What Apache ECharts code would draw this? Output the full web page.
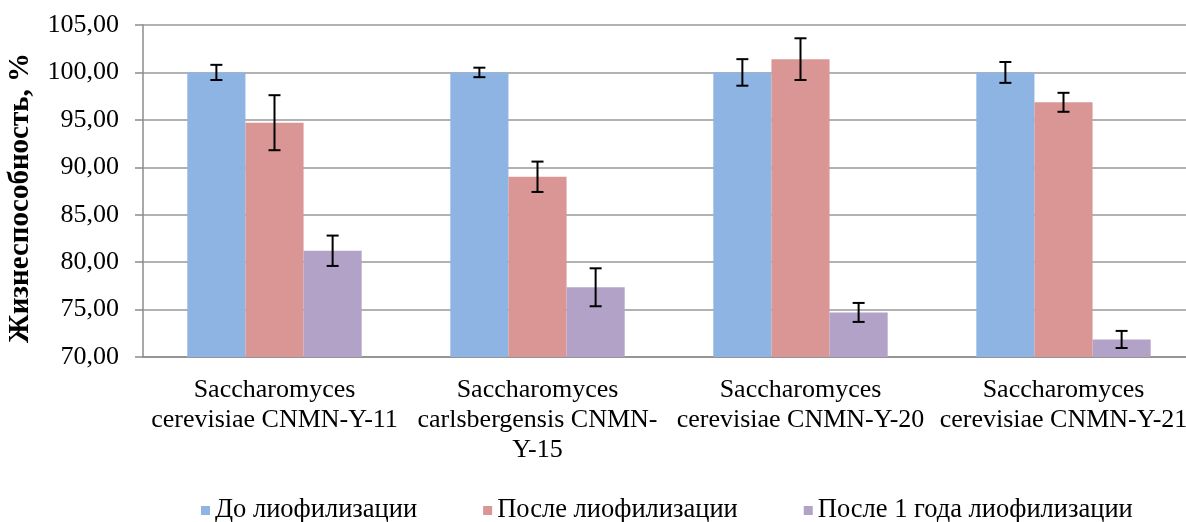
<!DOCTYPE html>
<html>
<head>
<meta charset="utf-8">
<script src="https://cdn.jsdelivr.net/npm/echarts@6/dist/echarts.min.js"></script>
<style>
  html, body { margin: 0; padding: 0; background: #fff; }
  #chart { width: 1186px; height: 522px; }
</style>
</head>
<body>
<div id="chart"></div>
<script>
// данные графика
const categories = [
  'Saccharomyces\ncerevisiae CNMN-Y-11',
  'Saccharomyces\ncarlsbergensis CNMN-\nY-15',
  'Saccharomyces\ncerevisiae CNMN-Y-20',
  'Saccharomyces\ncerevisiae CNMN-Y-21'
]
const seriesNames = ['До лиофилизации', 'После лиофилизации', 'После 1 года лиофилизации']
const beforeValues = [100.0, 100.0, 100.0, 100.0]
const afterValues = [94.7, 89.0, 101.4, 96.85]
const yearValues = [81.2, 77.35, 74.7, 71.85]
// погрешности (±)
const beforeErr = [0.8, 0.5, 1.4, 1.1]
const afterErr = [2.9, 1.6, 2.2, 1.0]
const yearErr = [1.6, 2.0, 1.0, 0.9]

const colors = ['#8eb4e3', '#d99694', '#b3a2c7']
const font = '"Liberation Serif", "Times New Roman", serif'
const catGap = 0.337 // доля пустого места в категории

const chart = echarts.init(document.getElementById('chart'))

// планки погрешностей через custom series
const errorSeries = (values, errs, idx) => ({
  type: 'custom',
  silent: true,
  z: 10,
  data: values.map((v, i) => [i, v - errs[i], v + errs[i]]),
  renderItem: (params, api) => {
    const catW = api.size([1, 0])[0]
    const barW = catW * (1 - catGap) / 3
    const lo = api.coord([api.value(0), api.value(1)])
    const hi = api.coord([api.value(0), api.value(2)])
    const x = lo[0] + (idx - 1) * barW
    const cap = 6
    const style = { stroke: '#000', lineWidth: 2 }
    return {
      type: 'group',
      children: [
        { type: 'line', shape: { x1: x, y1: lo[1], x2: x, y2: hi[1] }, style },
        { type: 'line', shape: { x1: x - cap, y1: lo[1], x2: x + cap, y2: lo[1] }, style },
        { type: 'line', shape: { x1: x - cap, y1: hi[1], x2: x + cap, y2: hi[1] }, style }
      ]
    }
  }
})

const option = {
  animation: false,
  color: colors,
  textStyle: { fontFamily: font, color: '#000' },
  // правый край области построения выходит за холст, как в оригинале
  grid: { left: 143, top: 25, bottom: 165, width: 1052, outerBoundsMode: 'none' },
  legend: {
    bottom: -7,
    left: 196,
    icon: 'rect',
    itemWidth: 9,
    itemHeight: 9,
    itemGap: 66,
    data: seriesNames,
    textStyle: { fontFamily: font, fontSize: 26.5, color: '#000' }
  },
  xAxis: {
    type: 'category',
    data: categories,
    axisLine: { lineStyle: { color: '#8c8c8c', width: 1.5 } },
    axisTick: { length: 8, lineStyle: { color: '#8c8c8c', width: 1.5 } },
    axisLabel: {
      interval: 0,
      margin: 18,
      fontFamily: font,
      fontSize: 26,
      lineHeight: 30,
      color: '#000'
    }
  },
  yAxis: {
    type: 'value',
    min: 70,
    max: 105,
    interval: 5,
    name: 'Жизнеспособность, %',
    nameLocation: 'middle',
    nameGap: 108,
    nameTextStyle: {
      fontFamily: font,
      fontSize: 29,
      fontWeight: 'bold',
      color: '#000',
      padding: [0, 14, 0, 0]
    },
    axisLine: { show: true, lineStyle: { color: '#8c8c8c', width: 1.5 } },
    axisTick: { show: true, length: 8, lineStyle: { color: '#8c8c8c', width: 1.5 } },
    axisLabel: {
      margin: 24,
      fontFamily: font,
      fontSize: 26,
      color: '#000',
      formatter: v => v.toFixed(2).replace('.', ',')
    },
    splitLine: { lineStyle: { color: '#999', width: 1.5 } }
  },
  series: [
    { name: seriesNames[0], type: 'bar', data: beforeValues, barGap: '0%', barCategoryGap: '33.7%' },
    { name: seriesNames[1], type: 'bar', data: afterValues, barGap: '0%', barCategoryGap: '33.7%' },
    { name: seriesNames[2], type: 'bar', data: yearValues, barGap: '0%', barCategoryGap: '33.7%' },
    errorSeries(beforeValues, beforeErr, 0),
    errorSeries(afterValues, afterErr, 1),
    errorSeries(yearValues, yearErr, 2)
  ]
}

chart.setOption(option)
</script>
</body>
</html>
